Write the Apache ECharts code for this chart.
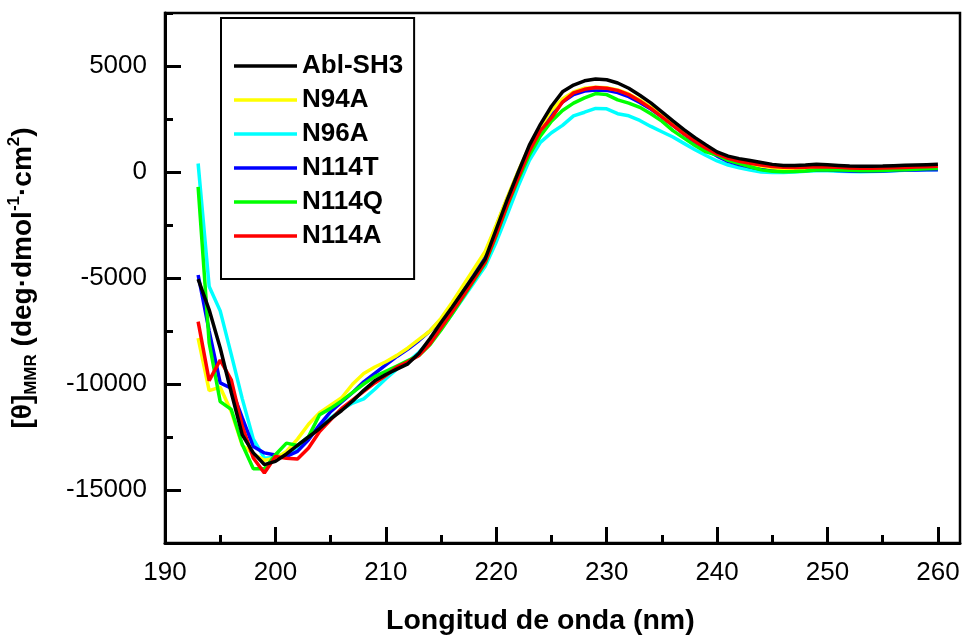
<!DOCTYPE html>
<html>
<head>
<meta charset="utf-8">
<title>CD Abl-SH3</title>
<script src="https://cdn.jsdelivr.net/npm/echarts@6/dist/echarts.min.js"></script>
<style>
    html, body { margin: 0; padding: 0; background: #fff; }
    #cd_chart { width: 963px; height: 639px; }
</style>
</head>
<body>
<div id="cd_chart"></div>
<script>
// longitud de onda (nm)
var wavelengths = [193, 194, 195, 196, 197, 198, 199, 200, 201, 202, 203, 204, 205, 206, 207, 208, 209,
    210, 211, 212, 213, 214, 215, 216, 217, 218, 219, 220, 221, 222, 223, 224, 225, 226, 227, 228, 229,
    230, 231, 232, 233, 234, 235, 236, 237, 238, 239, 240, 241, 242, 243, 244, 245, 246, 247, 248, 249,
    250, 251, 252, 253, 254, 255, 256, 257, 258, 259, 260];

var seriesNames = ['Abl-SH3', 'N94A', 'N96A', 'N114T', 'N114Q', 'N114A'];
var seriesColors = ['#000000', '#ffff00', '#00ffff', '#0000ff', '#00ff00', '#ff0000'];
var seriesZ = [10, 6, 4, 5, 7, 8];

var ablSH3 = [-5050, -6500, -8300, -10400, -12400, -13250, -13800, -13650, -13300, -12900, -12500, -12100,
    -11650, -11250, -10800, -10300, -9850, -9550, -9300, -9050, -8550, -7850, -7100, -6380, -5630, -4880,
    -4100, -2700, -1300, 0, 1270, 2250, 3100, 3780, 4100, 4300, 4390, 4350, 4200, 3950, 3620, 3260, 2840,
    2410, 2000, 1620, 1280, 950, 750, 630, 540, 450, 360, 310, 310, 330, 360, 340, 310, 280, 270, 275, 285,
    300, 315, 330, 345, 360];
var n94A = [-7840, -10310, -10150, -11300, -12900, -13300, -13600, -13500, -13180, -12600, -11900, -11350,
    -11000, -10650, -10000, -9500, -9200, -8950, -8650, -8300, -7900, -7500, -6900, -6150, -5350, -4550,
    -3750, -2500, -1200, 50, 1200, 2150, 2900, 3450, 3780, 3950, 4000, 3970, 3870, 3680, 3400, 3070, 2680,
    2270, 1870, 1500, 1150, 850, 620, 480, 380, 280, 200, 150, 140, 150, 180, 180, 160, 140, 130, 140, 150,
    170, 190, 210, 230, 240];
var n96A = [400, -5400, -6550, -8600, -10700, -12600, -13500, -13450, -13340, -13100, -12500, -12000,
    -11600, -11200, -10900, -10700, -10250, -9750, -9300, -8950, -8500, -7950, -7400, -6700, -5950, -5200,
    -4450, -3300, -2000, -650, 550, 1400, 1850, 2200, 2650, 2820, 3000, 2980, 2750, 2650, 2430, 2150, 1900,
    1650, 1350, 1050, 780, 520, 330, 200, 90, 0, -20, -20, 0, 30, 60, 60, 40, 20, 10, 20, 40,
    60, 80, 100, 110, 120];
var n114T = [-4860, -7500, -9950, -10200, -11600, -12950, -13250, -13350, -13420, -13180, -12630, -11930,
    -11300, -10850, -10400, -9900, -9500, -9100, -8700, -8350, -7950, -7500, -6950, -6250, -5500, -4700,
    -3850, -2550, -1250, 0, 1150, 2050, 2750, 3300, 3650, 3820, 3870, 3850, 3750, 3550, 3280, 2970, 2600,
    2200, 1800, 1400, 1050, 750, 500, 350, 230, 130, 70, 50, 60, 70, 90, 90, 70, 50, 40, 40, 50,
    70, 90, 100, 110, 110];
var n114Q = [-700, -8060, -10830, -11200, -12850, -14000, -14000, -13340, -12790, -12900, -12480, -11450,
    -11150, -10800, -10400, -10000, -9650, -9400, -9150, -8900, -8650, -8150, -7450, -6700, -5900, -5100,
    -4300, -3000, -1600, -350, 800, 1700, 2400, 2900, 3250, 3500, 3700, 3650, 3400, 3250, 3050, 2750, 2400,
    1950, 1600, 1250, 950, 800, 550, 400, 250, 100, 30, 10, 20, 50, 90, 110, 100, 80, 60, 60, 70,
    90, 110, 130, 150, 160];
var n114A = [-7060, -9840, -8870, -9800, -12000, -13490, -14200, -13420, -13500, -13540, -13020, -12240,
    -11690, -11150, -10750, -10350, -9950, -9600, -9200, -8950, -8650, -8100, -7350, -6600, -5850, -5050,
    -4250, -2950, -1550, -250, 1000, 1950, 2550, 3300, 3730, 3900, 3990, 3950, 3850, 3650, 3350, 3000, 2600,
    2200, 1800, 1450, 1120, 850, 640, 500, 410, 330, 260, 220, 210, 220, 250, 240, 220, 190, 180, 180, 190,
    200, 215, 230, 250, 270];

var xMajorTicks = [190, 200, 210, 220, 230, 240, 250, 260];
var xMinorTicks = [195, 205, 215, 225, 235, 245, 255];
var yMajorTicks = [-15000, -10000, -5000, 0, 5000];
var yMinorTicks = [-17500, -12500, -7500, -2500, 2500, 7500];

var FONT = '"Liberation Sans", Arial, sans-serif';

/**
 * 组合 (x, y) 数据点
 */
function toPoints(values) {
    var points = [];
    for (var i = 0; i < wavelengths.length; i++) {
        points.push([wavelengths[i], values[i]]);
    }
    return points;
}

/**
 * 圆二色谱图表
 */
function cdChart() {
    var myChart = echarts.init(document.getElementById('cd_chart'), null, {renderer: 'canvas'});
    var allValues = [ablSH3, n94A, n96A, n114T, n114Q, n114A];
    var series = [];
    for (var i = 0; i < seriesNames.length; i++) {
        series.push({
            name: seriesNames[i],
            type: 'line',
            xAxisIndex: 0,
            yAxisIndex: 0,
            symbol: 'none',
            z: seriesZ[i],
            color: seriesColors[i],
            lineStyle: {width: 3.5, color: seriesColors[i]},
            data: toPoints(allValues[i])
        });
    }
    var option = null;
    option = {
        animation: false,
        backgroundColor: '#ffffff',
        grid: {
            left: 165,
            right: 3,
            top: 13,
            bottom: 96,
            outerBoundsMode: 'none',
            containLabel: false,
            show: true,
            borderColor: '#000',
            borderWidth: 2.5
        },
        legend: {
            orient: 'vertical',
            left: 221,
            top: 18,
            padding: [35, 11, 30, 13],
            icon: 'path://M0,0 L63,0 L63,3.5 L0,3.5 Z',
            itemWidth: 63,
            itemHeight: 26,
            itemGap: 8,
            borderColor: '#000',
            borderWidth: 2,
            backgroundColor: '#fff',
            data: seriesNames,
            textStyle: {
                fontFamily: FONT,
                fontSize: 26,
                fontWeight: 'bold',
                color: '#000'
            }
        },
        xAxis: [
            {
                type: 'value',
                min: 190,
                max: 262,
                position: 'bottom',
                axisLine: {onZero: false, lineStyle: {color: '#000', width: 3}},
                axisTick: {inside: true, length: 16, customValues: xMajorTicks, lineStyle: {color: '#000', width: 3}},
                axisLabel: {
                    customValues: xMajorTicks,
                    margin: 17,
                    color: '#000',
                    fontFamily: FONT,
                    fontSize: 26,
                    formatter: function (v) { return String(v); }
                },
                splitLine: {show: false}
            },
            {
                type: 'value',
                min: 190,
                max: 262,
                position: 'bottom',
                axisLine: {show: false, onZero: false},
                axisTick: {inside: true, length: 8, customValues: xMinorTicks, lineStyle: {color: '#000', width: 3}},
                axisLabel: {show: false},
                splitLine: {show: false}
            }
        ],
        yAxis: [
            {
                type: 'value',
                min: -17500,
                max: 7500,
                position: 'left',
                name: '{m|[θ]}{sub|MMR}{m| (deg·dmol}{sup|-1}{m|·cm}{sup|2}{m|)}',
                nameLocation: 'middle',
                nameRotate: 90,
                nameGap: 125,
                nameTextStyle: {
                    rich: {
                        m: {fontFamily: FONT, fontSize: 28, fontWeight: 'bold', color: '#000', lineHeight: 34},
                        sub: {fontFamily: FONT, fontSize: 17, fontWeight: 'bold', color: '#000', lineHeight: 34, verticalAlign: 'bottom'},
                        sup: {fontFamily: FONT, fontSize: 17, fontWeight: 'bold', color: '#000', lineHeight: 34, verticalAlign: 'top'}
                    }
                },
                axisLine: {onZero: false, lineStyle: {color: '#000', width: 3}},
                axisTick: {inside: true, length: 16, customValues: yMajorTicks, lineStyle: {color: '#000', width: 3}},
                axisLabel: {
                    customValues: yMajorTicks,
                    margin: 18,
                    color: '#000',
                    fontFamily: FONT,
                    fontSize: 26,
                    formatter: function (v) { return String(v); }
                },
                splitLine: {show: false}
            },
            {
                type: 'value',
                min: -17500,
                max: 7500,
                position: 'left',
                offset: 0,
                axisLine: {show: false, onZero: false},
                axisTick: {inside: true, length: 8, customValues: yMinorTicks, lineStyle: {color: '#000', width: 3}},
                axisLabel: {show: false},
                splitLine: {show: false}
            }
        ],
        graphic: [
            {
                type: 'text',
                left: 386,
                top: 607,
                style: {
                    text: 'Longitud de onda (nm)',
                    fontFamily: FONT,
                    fontSize: 28.5,
                    fontWeight: 'bold',
                    fill: '#000'
                }
            }
        ],
        series: series
    };
    if (option && typeof option === "object") {
        myChart.setOption(option, true);
    }
}

cdChart();
</script>
</body>
</html>
